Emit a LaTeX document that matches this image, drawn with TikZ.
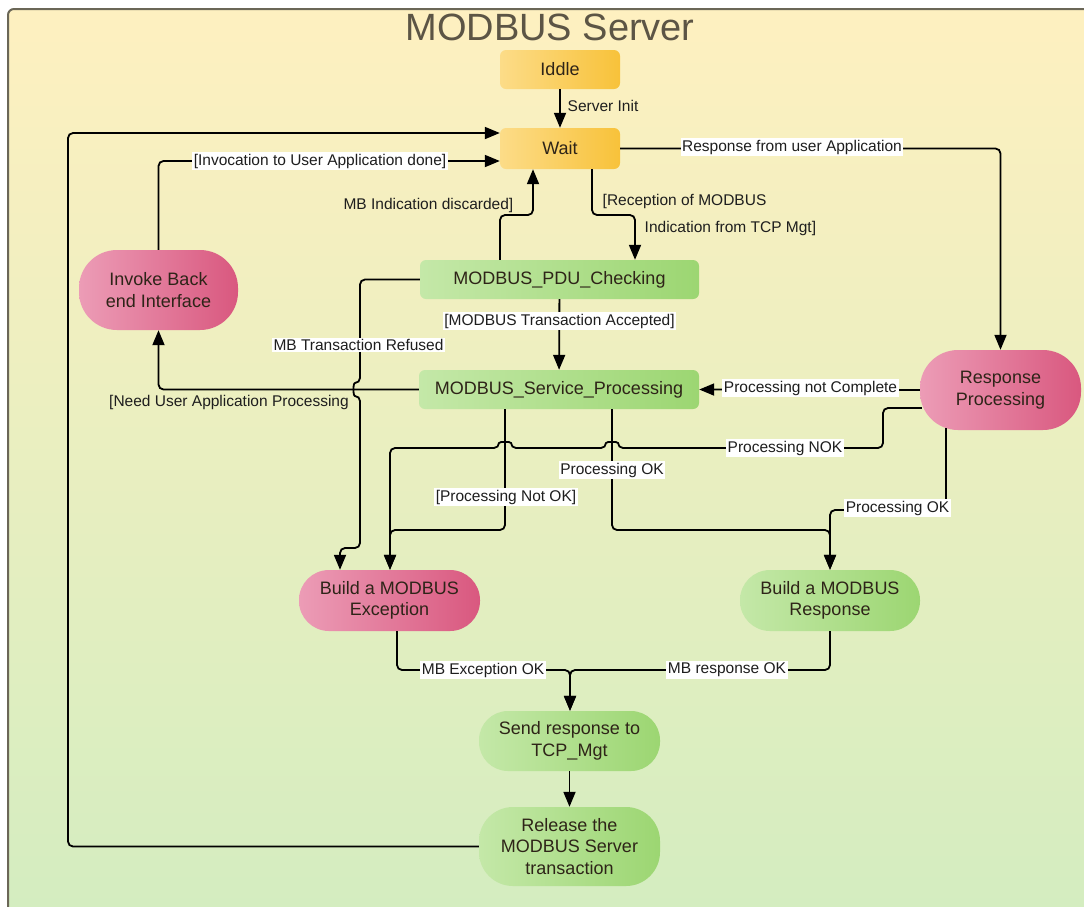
\documentclass[tikz,border=0pt]{standalone}
\usepackage{fontspec}
\setmainfont{Liberation Sans}
\usetikzlibrary{arrows.meta}
\definecolor{bgT}{HTML}{FEF0C0}
\definecolor{bgB}{HTML}{D3EDC0}
\definecolor{frame}{HTML}{6B6757}
\definecolor{orL}{HTML}{FCDC88}
\definecolor{orR}{HTML}{F8C23A}
\definecolor{grL}{HTML}{C4E8A8}
\definecolor{grR}{HTML}{9CD672}
\definecolor{pkL}{HTML}{EC9CB6}
\definecolor{pkR}{HTML}{D9587F}
\definecolor{labtext}{HTML}{1E1E1E}
\definecolor{nodetext}{HTML}{2E2418}
\definecolor{titletext}{HTML}{5C5545}
\begin{document}
\begin{tikzpicture}[x=1pt,y=-1pt,
  ln/.style={line width=1.8pt, rounded corners=5pt},
  arr/.style={ln, -{Triangle[length=15pt,width=12pt]}},
  lbl/.style={font=\fontsize{15.5}{18}\selectfont, text=labtext, inner sep=1.5pt},
  wlbl/.style={lbl, fill=white},
  box/.style={rectangle, inner sep=0pt, font=\fontsize{18}{21.5}\selectfont, align=center, text=nodetext},
  orbox/.style={box, rounded corners=6pt, left color=orL, right color=orR, minimum width=120pt, minimum height=39pt},
  grbox/.style={box, rounded corners=6pt, left color=grL, right color=grR},
  pkbox/.style={box, left color=pkL, right color=pkR},
  grpill/.style={box, left color=grL, right color=grR},
]
\useasboundingbox (0,0) rectangle (1084,906);
\fill[white] (0,0) rectangle (1084,906);
\shadedraw[top color=bgT, bottom color=bgB, draw=frame, line width=2pt, rounded corners=6pt] (8,9) rectangle (1110,930);

\node[font=\fontsize{38}{44}\selectfont, text=titletext, inner sep=0pt] (title) at (550,27) {MODBUS Server};

% nodes
\node[orbox] (iddle) at (560,69.5) {Iddle};
\node[orbox, minimum height=41pt] (wait) at (560,148.5) {Wait};
\node[grbox, minimum width=279pt, minimum height=39pt] (pdu) at (559.5,279.5) {MODBUS\_PDU\_Checking};
\node[grbox, minimum width=280pt, minimum height=39pt] (serv) at (559,389.5) {MODBUS\_Service\_Processing};
\node[pkbox, minimum width=159pt, minimum height=80pt, rounded corners=38pt] (invoke) at (158.5,290) {Invoke Back\\end Interface};
\node[pkbox, minimum width=161pt, minimum height=80pt, rounded corners=38pt] (rp) at (1000.5,390) {Response\\Processing};
\node[pkbox, minimum width=181pt, minimum height=61pt, rounded corners=30pt] (exc) at (389.5,600.5) {Build a MODBUS\\Exception};
\node[grpill, minimum width=180pt, minimum height=61pt, rounded corners=30pt] (bresp) at (830,600.5) {Build a MODBUS\\Response};
\node[grpill, minimum width=181pt, minimum height=60pt, rounded corners=29pt] (send) at (569.5,741) {Send response to\\TCP\_Mgt};
\node[grpill, minimum width=181pt, minimum height=79pt, rounded corners=34pt] (rel) at (569.5,846.5) {Release the\\MODBUS Server\\transaction};

% connectors
\draw[arr] (iddle) -- (wait);
\draw[arr] (rel.west) -| (68,133) -- (wait.west |- 0,133);
\draw[arr] (invoke.north) |- (wait.west |- 0,161);
\draw[arr] (500,0 |- pdu.north) -- (500,215) -- (533,215) -- (533,0 |- wait.south);
\draw[arr] (592,0 |- wait.south) -- (592,215) -- (635,215) -- (635,0 |- pdu.north);
\draw[arr] (wait.east) -| (rp.north);
\draw[arr] (pdu.west) -- (360,279.5) -- (360,383) to[out=180,in=180,looseness=1.4] (360,396) -- (360,548) -- (340,548) -- (340,0 |- exc.north);
\draw[arr] (pdu) -- (serv);
\draw[arr] (serv.west) -| (invoke.south);
\draw[arr] (rp.west) -- (serv.east);
\draw[arr] ([xshift=2pt,yshift=-18pt]rp.west) -- (883,408) -- (883,448) -- (618,448) to[out=90,in=90,looseness=1.4] (606,448) -- (511,448) to[out=90,in=90,looseness=1.4] (499,448) -- (390,448) -- (390,0 |- exc.north);
\draw[arr] (505,0 |- serv.south) -- (505,530) -- (390,530) -- (390,0 |- exc.north);
\draw[arr] (612,0 |- serv.south) -- (612,530) -- (830,530) -- (830,0 |- bresp.north);
\draw[arr] ([xshift=-54.5pt,yshift=2pt]rp.south) -- (946,510) -- (830,510) -- (830,0 |- bresp.north);
\draw[arr] (397,0 |- exc.south) -- (397,670) -- (570,670) -- (570,0 |- send.north);
\draw[arr] (bresp.south) -- (830,670) -- (570,670) -- (570,0 |- send.north);
\draw[arr] (send) -- (rel);

% labels
\node[lbl, anchor=west] (l1) at (566,106) {Server Init};
\node[wlbl] (l2) at (320,161) {[Invocation to User Application done]};
\node[lbl, anchor=east] (l3) at (515,205) {MB Indication discarded]};
\node[lbl, anchor=west] (l4) at (601,201) {[Reception of MODBUS};
\node[lbl, anchor=west] (l5) at (643,228) {Indication from TCP Mgt]};
\node[wlbl] (l6) at (792,147) {Response from user Application};
\node[wlbl] (l7) at (358.5,345) {MB Transaction Refused};
\node[wlbl] (l8) at (559.5,321) {[MODBUS Transaction Accepted]};
\node[lbl] (l9) at (229,402) {[Need User Application Processing};
\node[wlbl] (l10) at (810.5,388) {Processing not Complete};
\node[wlbl] (l11) at (785,448) {Processing NOK};
\node[wlbl] (l12) at (506,497) {[Processing Not OK]};
\node[wlbl] (l13) at (612,470) {Processing OK};
\node[wlbl] (l14) at (897.5,508) {Processing OK};
\node[wlbl] (l15) at (483,670) {MB Exception OK};
\node[wlbl] (l16) at (727,670) {MB response OK};
\end{tikzpicture}
\end{document}
